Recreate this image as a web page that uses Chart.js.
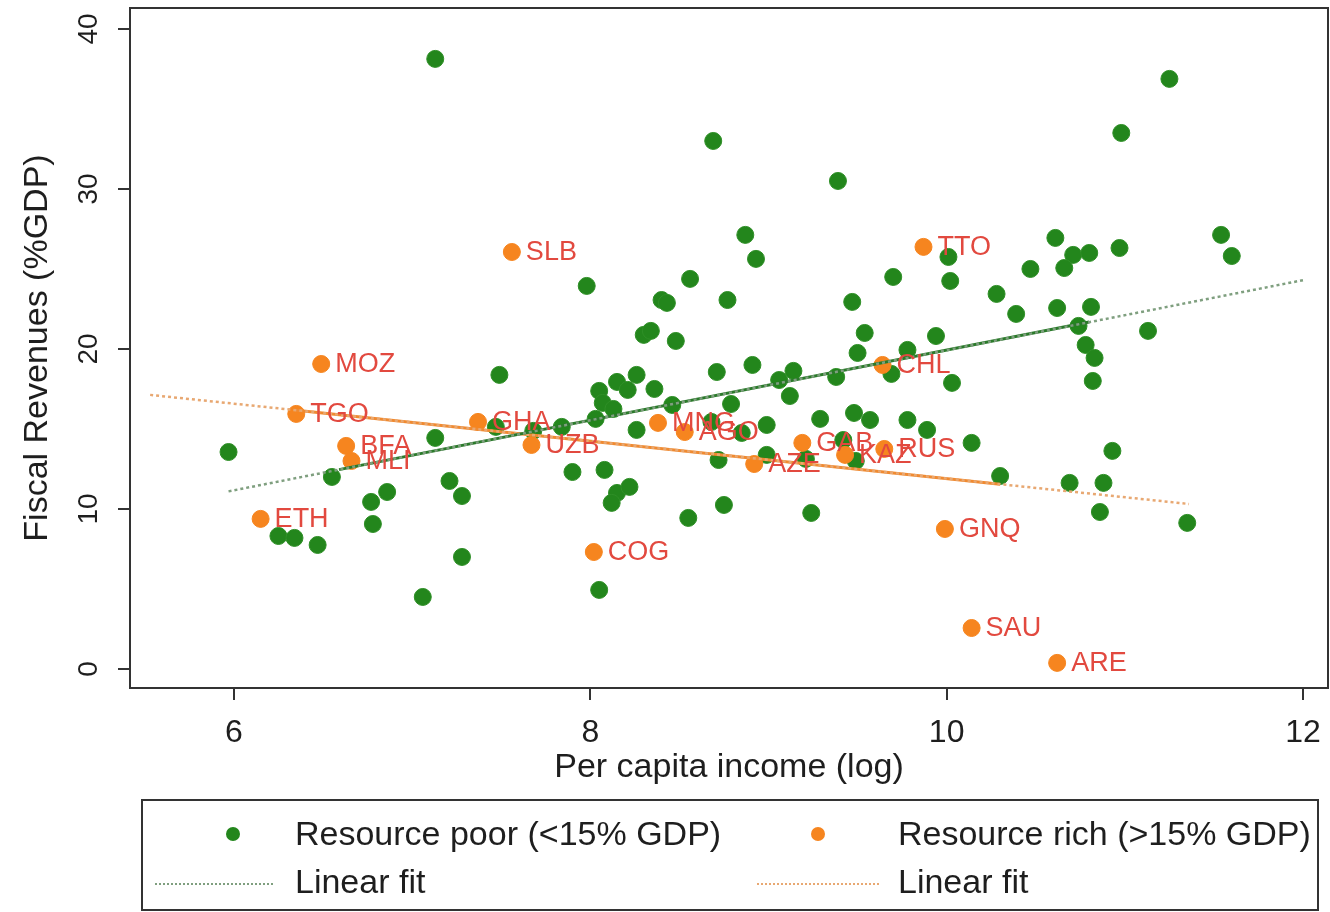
<!DOCTYPE html>
<html>
<head>
<meta charset="utf-8">
<title>Fiscal revenues and per capita income</title>
<script src="https://cdn.jsdelivr.net/npm/chart.js@4.4.1/dist/chart.umd.min.js"></script>
<style>
  html, body { margin: 0; padding: 0; background: #fff; }
  #wrap { width: 1330px; height: 912px; }
</style>
</head>
<body>
<div id="wrap"><canvas id="chart" width="1330" height="912"></canvas></div>
<script>
// Valeurs (log du revenu par tête, recettes fiscales en % du PIB)
const poorX = [5.97, 7.13, 8.69, 11.25, 10.98, 9.39, 7.98, 8.87, 8.93, 8.40,
               8.43, 8.56, 8.77, 8.30, 8.34, 8.48, 7.49, 8.71, 8.91, 8.79,
               9.06, 9.14, 9.12, 8.05, 8.15, 8.21, 8.26, 8.36, 8.07, 8.13,
               8.03, 7.84, 7.13, 7.47, 7.68, 8.26, 8.46, 8.68, 8.85, 8.99,
               8.72, 8.99, 9.21, 9.29, 9.48, 9.57, 9.78, 9.89, 10.14, 9.42,
               9.49, 9.38, 9.47, 9.54, 9.50, 9.70, 10.01, 10.02, 9.94, 9.78,
               9.69, 10.03, 10.61, 10.71, 10.80, 10.66, 10.97, 10.47, 11.54, 11.60,
               10.28, 10.39, 10.62, 10.81, 10.74, 11.13, 10.78, 10.83, 10.82, 10.93,
               10.30, 10.69, 10.88, 10.86, 11.35, 6.55, 6.77, 6.86, 6.78, 6.25,
               6.34, 6.47, 7.21, 7.28, 7.28, 7.06, 7.90, 8.08, 8.15, 8.22,
               8.12, 8.05, 8.55, 8.75, 9.24];
const poorY = [13.56, 38.13, 33.0, 36.88, 33.5, 30.5, 23.94, 27.13, 25.63, 23.06,
               22.88, 24.38, 23.06, 20.88, 21.13, 20.5, 18.38, 18.56, 19.0, 16.56,
               18.06, 18.63, 17.06, 17.38, 17.94, 17.44, 18.38, 17.5, 16.63, 16.25,
               15.63, 15.13, 14.44, 15.13, 14.88, 14.94, 16.5, 15.44, 14.75, 15.25,
               13.06, 13.38, 13.13, 15.63, 16.0, 15.56, 15.56, 14.94, 14.13, 14.31,
               13.0, 18.25, 22.94, 21.0, 19.75, 24.5, 25.75, 24.25, 20.81, 19.94,
               18.44, 17.88, 26.94, 25.88, 26.0, 25.06, 26.31, 25.0, 27.13, 25.81,
               23.44, 22.19, 22.56, 22.63, 21.44, 21.13, 20.25, 19.44, 18.0, 13.63,
               12.06, 11.63, 11.63, 9.81, 9.13, 12.0, 10.44, 11.06, 9.06, 8.31,
               8.19, 7.75, 11.75, 10.81, 7.0, 4.5, 12.31, 12.44, 11.0, 11.38,
               10.38, 4.94, 9.44, 10.25, 9.75];

const richCodes = ['SLB', 'TTO', 'MOZ', 'CHL', 'TGO', 'GHA', 'MNG', 'AGO', 'BFA', 'MLI',
                   'UZB', 'GAB', 'RUS', 'KAZ', 'AZE', 'ETH', 'GNQ', 'COG', 'SAU', 'ARE'];
const richX = [7.56, 9.87, 6.49, 9.64, 6.35, 7.37, 8.38, 8.53, 6.63, 6.66,
               7.67, 9.19, 9.65, 9.43, 8.92, 6.15, 9.99, 8.02, 10.14, 10.62];
const richY = [26.06, 26.38, 19.06, 19.0, 15.94, 15.44, 15.38, 14.81, 13.94, 13.0,
               14.0, 14.13, 13.75, 13.38, 12.81, 9.38, 8.75, 7.31, 2.56, 0.38];

// droites d'ajustement : partie pointillée (toute l'étendue) et partie pleine
const fitPoorX = [5.97, 12.0];
const fitPoorY = [11.1, 24.3];
const fitPoorSolidX = [6.59, 10.8];
const fitPoorSolidY = [12.46, 21.68];
const fitRichX = [5.53, 11.36];
const fitRichY = [17.13, 10.31];
const fitRichSolidX = [6.35, 10.3];
const fitRichSolidY = [16.17, 11.55];

const xTicks = [6, 8, 10, 12];
const yTicks = [0, 10, 20, 30, 40];
const legendLabels = ['Resource poor (<15% GDP)', 'Resource rich (>15% GDP)', 'Linear fit', 'Linear fit'];

const colors = {
    poor: '#23861c',
    poorEdge: '#2f8f27',
    rich: '#f6851f',
    label: '#e2493f',
    poorLine: '#2a7a2a',
    poorDots: '#7f9f7f',
    richLine: '#f08a30',
    richDots: '#e8a872',
    axis: '#333333',
    text: '#1e1e1e'
};
const FONT = "'Liberation Sans', Arial, Helvetica, sans-serif";

function toPoints(xs, ys) {
    return xs.map((x, i) => ({ x: x, y: ys[i] }));
}

// pas de marge automatique pour les étiquettes qui débordent
function noPadding(axis) {
    axis.paddingTop = 0;
    axis.paddingBottom = 0;
    axis.paddingLeft = 0;
    axis.paddingRight = 0;
}

// cadre autour de la zone de tracé
const framePlugin = {
    id: 'frame',
    afterDraw(chart) {
        const a = chart.chartArea;
        const ctx = chart.ctx;
        ctx.save();
        ctx.strokeStyle = colors.axis;
        ctx.lineWidth = 2;
        ctx.strokeRect(a.left, a.top, a.right - a.left, a.bottom - a.top);
        ctx.restore();
    }
};

// codes pays à droite des points "resource rich"
const labelPlugin = {
    id: 'richLabels',
    afterDatasetsDraw(chart) {
        const meta = chart.getDatasetMeta(4);
        const ctx = chart.ctx;
        ctx.save();
        ctx.font = '27px ' + FONT;
        ctx.fillStyle = colors.label;
        ctx.textAlign = 'left';
        ctx.textBaseline = 'middle';
        meta.data.forEach((pt, i) => {
            ctx.fillText(richCodes[i], pt.x + 14, pt.y + 1);
        });
        ctx.restore();
    }
};

// légende encadrée sous le graphique
const legendPlugin = {
    id: 'boxLegend',
    afterDraw(chart) {
        const ctx = chart.ctx;
        const ds = chart.data.datasets;
        ctx.save();
        ctx.strokeStyle = colors.axis;
        ctx.lineWidth = 2;
        ctx.strokeRect(142, 800, 1176, 110);

        ctx.font = '34px ' + FONT;
        ctx.fillStyle = colors.text;
        ctx.textBaseline = 'middle';
        ctx.textAlign = 'left';

        // ligne 1 : marqueurs
        [[233, ds[5]], [818, ds[4]]].forEach(([x, d]) => {
            ctx.beginPath();
            ctx.arc(x, 834, 7, 0, Math.PI * 2);
            ctx.fillStyle = d.backgroundColor;
            ctx.fill();
        });
        ctx.fillStyle = colors.text;
        ctx.fillText(legendLabels[0], 295, 836);
        ctx.fillText(legendLabels[1], 898, 836);

        // ligne 2 : traits pointillés
        [[155, 275, ds[0]], [757, 880, ds[2]]].forEach(([x0, x1, d]) => {
            ctx.beginPath();
            ctx.setLineDash([2, 2]);
            ctx.strokeStyle = d.borderColor;
            ctx.lineWidth = 2;
            ctx.moveTo(x0, 884);
            ctx.lineTo(x1, 884);
            ctx.stroke();
        });
        ctx.setLineDash([]);
        ctx.fillStyle = colors.text;
        ctx.fillText(legendLabels[2], 295, 884);
        ctx.fillText(legendLabels[3], 898, 884);
        ctx.restore();
    }
};

Chart.defaults.font.family = FONT;
Chart.defaults.color = colors.text;

const ctx = document.getElementById('chart').getContext('2d');
new Chart(ctx, {
    type: 'scatter',
    data: {
        datasets: [
            {
                label: 'Linear fit (poor, dotted)',
                data: toPoints(fitPoorX, fitPoorY),
                showLine: true,
                borderColor: colors.poorDots,
                borderWidth: 2.5,
                borderDash: [3, 3],
                pointRadius: 0,
                order: 0
            },
            {
                label: 'Linear fit (poor)',
                data: toPoints(fitPoorSolidX, fitPoorSolidY),
                showLine: true,
                borderColor: colors.poorLine,
                borderWidth: 3,
                pointRadius: 0,
                order: 0
            },
            {
                label: 'Linear fit (rich, dotted)',
                data: toPoints(fitRichX, fitRichY),
                showLine: true,
                borderColor: colors.richDots,
                borderWidth: 2.5,
                borderDash: [3, 3],
                pointRadius: 0,
                order: 0
            },
            {
                label: 'Linear fit (rich)',
                data: toPoints(fitRichSolidX, fitRichSolidY),
                showLine: true,
                borderColor: colors.richLine,
                borderWidth: 3,
                pointRadius: 0,
                order: 0
            },
            {
                label: legendLabels[1],
                data: toPoints(richX, richY),
                backgroundColor: colors.rich,
                borderColor: colors.rich,
                borderWidth: 1,
                pointRadius: 8.5,
                order: 1
            },
            {
                label: legendLabels[0],
                data: toPoints(poorX, poorY),
                backgroundColor: colors.poor,
                borderColor: colors.poorEdge,
                borderWidth: 1,
                pointRadius: 8.5,
                order: 2
            }
        ]
    },
    options: {
        responsive: false,
        animation: false,
        layout: {
            autoPadding: false,
            padding: { left: 0, top: 8, right: 2, bottom: 124 }
        },
        plugins: {
            legend: { display: false },
            tooltip: { enabled: false }
        },
        scales: {
            x: {
                type: 'linear',
                min: 5.417,
                max: 12.14,
                afterBuildTicks: (axis) => { axis.ticks = xTicks.map(v => ({ value: v })); },
                afterFit: (axis) => { axis.height = 100; noPadding(axis); },
                grid: {
                    drawOnChartArea: false,
                    drawTicks: true,
                    tickLength: 12,
                    color: colors.axis,
                    lineWidth: 2
                },
                border: { display: true, color: colors.axis, width: 2 },
                ticks: {
                    font: { size: 32 },
                    color: colors.text,
                    padding: 14,
                    maxRotation: 0,
                    autoSkip: false
                },
                title: {
                    display: true,
                    text: 'Per capita income (log)',
                    font: { size: 34 },
                    color: colors.text,
                    padding: 0
                }
            },
            y: {
                type: 'linear',
                min: -1.19,
                max: 41.31,
                afterBuildTicks: (axis) => { axis.ticks = yTicks.map(v => ({ value: v })); },
                afterFit: (axis) => { axis.width = 130; noPadding(axis); },
                grid: {
                    drawOnChartArea: false,
                    drawTicks: true,
                    tickLength: 12,
                    color: colors.axis,
                    lineWidth: 2
                },
                border: { display: true, color: colors.axis, width: 2 },
                ticks: {
                    font: { size: 28 },
                    color: colors.text,
                    padding: 13,
                    minRotation: 90,
                    maxRotation: 90,
                    crossAlign: 'center',
                    autoSkip: false
                },
                title: {
                    display: true,
                    text: 'Fiscal Revenues (%GDP)',
                    font: { size: 34 },
                    color: colors.text,
                    padding: { top: 17, bottom: 0 }
                }
            }
        }
    },
    plugins: [framePlugin, labelPlugin, legendPlugin]
});
</script>
</body>
</html>
